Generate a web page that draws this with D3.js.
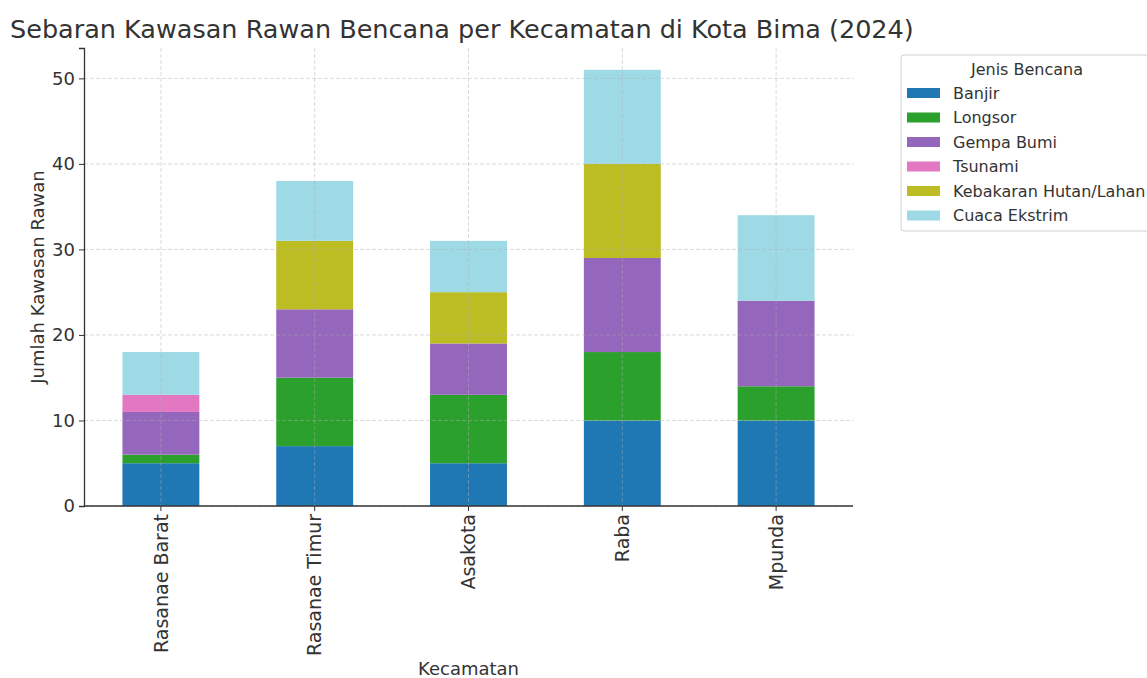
<!DOCTYPE html>
<html>
<head>
<meta charset="UTF-8">
<title>Sebaran Kawasan Rawan Bencana</title>
<script src="https://cdn.jsdelivr.net/npm/d3@7"></script>
<style>
  body { margin: 0; background: #fff; }
  text { font-family: "DejaVu Sans", sans-serif; fill: #333; }
</style>
</head>
<body>
<script>
const kecamatan = ['Rasanae Barat', 'Rasanae Timur', 'Asakota', 'Raba', 'Mpunda']
const jenis = ['Banjir', 'Longsor', 'Gempa Bumi', 'Tsunami', 'Kebakaran Hutan/Lahan', 'Cuaca Ekstrim']
const banjir = [5, 7, 5, 10, 10]
const longsor = [1, 8, 8, 8, 4]
const gempa = [5, 8, 6, 11, 10]
const tsunami = [2, 0, 0, 0, 0]
const kebakaran = [0, 8, 6, 11, 0]
const cuaca = [5, 7, 6, 11, 10]
const yTicks = [0, 10, 20, 30, 40, 50]
const colors = ['#1f77b4', '#2ca02c', '#9467bd', '#e377c2', '#bcbd22', '#9edae5']

const seriesValues = [banjir, longsor, gempa, tsunami, kebakaran, cuaca]
const rows = kecamatan.map((k, i) => {
  const row = { kecamatan: k }
  jenis.forEach((j, s) => { row[j] = seriesValues[s][i] })
  return row
})

const W = 1147, H = 678
const margin = { top: 48, right: 294, bottom: 172, left: 84 }
const width = W - margin.left - margin.right
const height = H - margin.top - margin.bottom

const svg = d3.select('body').append('svg')
  .attr('width', W).attr('height', H)

const g = svg.append('g')
  .attr('transform', 'translate(' + margin.left + ',' + margin.top + ')')

const stacked = d3.stack().keys(jenis)(rows)
const maxTotal = d3.max(rows, d => d3.sum(jenis, j => d[j]))

const x = d3.scaleBand().domain(kecamatan).range([0, width]).paddingInner(0.5).paddingOuter(0.25)
const y = d3.scaleLinear().domain([0, maxTotal * 1.05]).range([height, 0])

// bars
g.selectAll('g.layer')
  .data(stacked)
  .join('g')
  .attr('class', 'layer')
  .attr('fill', (d, i) => colors[i])
  .selectAll('rect')
  .data(d => d)
  .join('rect')
  .attr('x', d => x(d.data.kecamatan))
  .attr('y', d => y(d[1]))
  .attr('width', x.bandwidth())
  .attr('height', d => y(d[0]) - y(d[1]))

// grid on top, faint
const grid = g.append('g')
grid.selectAll('line.h')
  .data(yTicks)
  .join('line')
  .attr('x1', 0).attr('x2', width)
  .attr('y1', d => y(d)).attr('y2', d => y(d))
  .attr('stroke', '#b0b0b0').attr('stroke-opacity', 0.45)
  .attr('stroke-dasharray', '4,2')
grid.selectAll('line.v')
  .data(kecamatan)
  .join('line')
  .attr('x1', d => x(d) + x.bandwidth() / 2).attr('x2', d => x(d) + x.bandwidth() / 2)
  .attr('y1', 0).attr('y2', height)
  .attr('stroke', '#b0b0b0').attr('stroke-opacity', 0.45)
  .attr('stroke-dasharray', '4,2')

// axes
const yAxis = g.append('g')
  .call(d3.axisLeft(y).tickValues(yTicks).tickSize(5).tickPadding(4))
yAxis.select('.domain').attr('stroke', '#333').attr('stroke-width', 1.3)
yAxis.selectAll('.tick line').attr('stroke', '#333')
yAxis.selectAll('.tick text').style('font-size', '18px').attr('fill', '#333')

const xAxis = g.append('g')
  .attr('transform', 'translate(0,' + height + ')')
  .call(d3.axisBottom(x).tickSize(5).tickSizeOuter(0))
xAxis.select('.domain').attr('stroke', '#333').attr('stroke-width', 1.3)
  .attr('d', 'M0,0H' + width)
xAxis.selectAll('.tick line').attr('stroke', '#333')
xAxis.selectAll('.tick text')
  .style('font-size', '19px').attr('fill', '#333')
  .attr('transform', 'rotate(-90)')
  .attr('text-anchor', 'end')
  .attr('x', -8).attr('y', 0).attr('dy', '0.35em')

// labels
svg.append('text')
  .attr('x', 10).attr('y', 38)
  .style('font-size', '25.5px')
  .text('Sebaran Kawasan Rawan Bencana per Kecamatan di Kota Bima (2024)')

svg.append('text')
  .attr('x', margin.left + width / 2).attr('y', 675)
  .attr('text-anchor', 'middle')
  .style('font-size', '18px')
  .text('Kecamatan')

svg.append('text')
  .attr('transform', 'translate(44,' + (margin.top + height / 2) + ') rotate(-90)')
  .attr('text-anchor', 'middle')
  .style('font-size', '18px')
  .text('Jumlah Kawasan Rawan')

// legend
const legend = svg.append('g').attr('transform', 'translate(901,55)')
legend.append('rect')
  .attr('x', 0).attr('y', 0).attr('width', 260).attr('height', 176)
  .attr('rx', 3)
  .attr('fill', '#fff').attr('stroke', '#d0d0d0')
legend.append('text')
  .attr('x', 126).attr('y', 20)
  .attr('text-anchor', 'middle')
  .style('font-size', '16px')
  .text('Jenis Bencana')
const item = legend.selectAll('g.item')
  .data(jenis)
  .join('g')
  .attr('class', 'item')
  .attr('transform', (d, i) => 'translate(6,' + (38 + i * 24.5) + ')')
item.append('rect')
  .attr('x', 0).attr('y', -5).attr('width', 33).attr('height', 10)
  .attr('fill', (d, i) => colors[i])
item.append('text')
  .attr('x', 46).attr('y', 0).attr('dy', '0.35em')
  .style('font-size', '16px')
  .text(d => d)
</script>
</body>
</html>
